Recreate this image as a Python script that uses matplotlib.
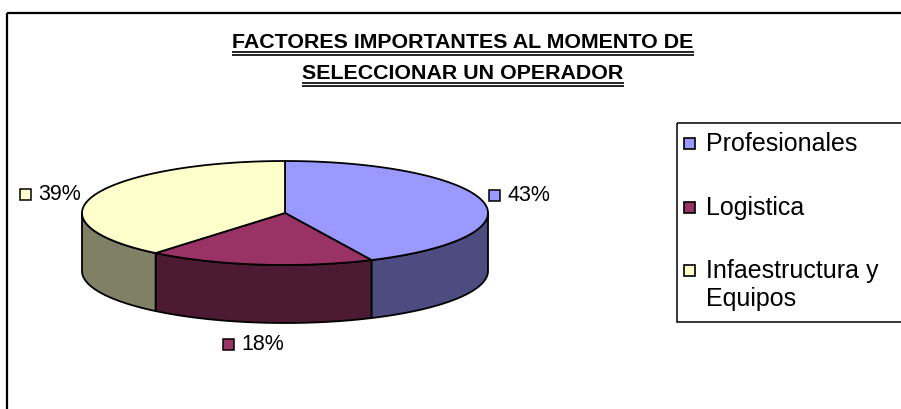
import numpy as np
import matplotlib
matplotlib.use("Agg")
import matplotlib.pyplot as plt
from matplotlib.patches import Polygon, Rectangle
from matplotlib.offsetbox import AnnotationBbox, HPacker, TextArea, DrawingArea

# ---- data ----
categories = ["Profesionales", "Logistica", "Infaestructura y\nEquipos"]
values = [43, 18, 39]
pct_labels = ["43%", "18%", "39%"]
title_lines = ["FACTORES IMPORTANTES AL MOMENTO DE", "SELECCIONAR UN OPERADOR"]
top_colors = ["#9999FF", "#993366", "#FFFFCC"]
side_colors = ["#4C4C80", "#4D1A33", "#808066"]

FONT = ["Liberation Sans", "DejaVu Sans"]
plt.rcParams["font.family"] = FONT

W, H = 901, 409
fig = plt.figure(figsize=(W / 100, H / 100), dpi=100)
ax = fig.add_axes([0, 0, 1, 1])
ax.set_xlim(0, W)
ax.set_ylim(H, 0)
ax.axis("off")

# chart frame (cropped on right/bottom)
ax.add_patch(Rectangle((7, 13), 1200, 1200, fill=False, ec="black", lw=1.6))

# ---- 3D pie geometry ----
CX, CY, RX, RY, DEPTH = 285, 213, 203, 52, 58

def pt(theta_deg, dy=0.0, k=1.0):
    t = np.deg2rad(theta_deg)
    return CX + RX * k * np.cos(t), CY - RY * k * np.sin(t) + dy

def arc(t1, t2, dy=0.0, n=120):
    ts = np.linspace(t1, t2, n)
    return np.array([pt(t, dy) for t in ts])

fracs = np.array(values, dtype=float) / np.sum(values)
starts = 90 - 360 * np.concatenate([[0], np.cumsum(fracs)[:-1]])
ends = starts - 360 * fracs

# side walls (front half: theta in [-180, 0])
for s, e, sc in zip(starts, ends, side_colors):
    for shift in (0, 360, -360):
        hi = min(s + shift, 0)
        lo = max(e + shift, -180)
        if lo < hi:
            top = arc(hi, lo)
            bot = arc(lo, hi, dy=DEPTH)
            poly = np.vstack([top, bot])
            ax.add_patch(Polygon(poly, closed=True, fc=sc, ec="black", lw=1.3, joinstyle="round"))

# top wedges
for s, e, tc in zip(starts, ends, top_colors):
    pts = np.vstack([[CX, CY], arc(s, e)])
    ax.add_patch(Polygon(pts, closed=True, fc=tc, ec="black", lw=1.3, joinstyle="round"))

# ---- percentage labels ----
for s, e, lab, tc in zip(starts, ends, pct_labels, top_colors):
    mid = (s + e) / 2
    c, sn = np.cos(np.deg2rad(mid)), np.sin(np.deg2rad(mid))
    x, y = pt(mid, k=1.03 if c > 0 else 1.07)
    if sn < -0.5:
        y += DEPTH + 8
        x -= 4
        align = (0.5, 1.0)
    elif c > 0:
        y -= 6
        align = (0.0, 0.5)
    else:
        align = (1.0, 0.5)
    da = DrawingArea(8, 8, 0, 0)
    da.add_artist(Rectangle((0, 0), 8, 8, fc=tc, ec="black", lw=1.1))
    ta = TextArea(lab, textprops=dict(fontsize=15.5, family=FONT))
    box = HPacker(children=[da, ta], align="center", pad=0, sep=5)
    ab = AnnotationBbox(box, (x, y), xycoords="data", frameon=False,
                        box_alignment=align, pad=0)
    ax.add_artist(ab)

# ---- title with double underline ----
title_y = [48, 79]  # baselines
ttexts = []
for line, yb in zip(title_lines, title_y):
    t = ax.text(463, yb, line, ha="center", va="baseline", fontsize=15.4,
                fontweight="bold", family=FONT)
    ttexts.append(t)

fig.canvas.draw()
r = fig.canvas.get_renderer()
inv = ax.transData.inverted()
for t, yb in zip(ttexts, title_y):
    bb = t.get_window_extent(r)
    x0, _ = inv.transform((bb.x0, 0))
    x1, _ = inv.transform((bb.x1, 0))
    for off in (4, 6.5):
        ax.plot([x0, x1], [yb + off, yb + off], color="black", lw=1.2,
                solid_capstyle="butt")

# ---- legend (drawn manually so the key aligns with the first text line) ----
LX, LY0, LY1 = 677, 123, 322
ax.add_patch(Rectangle((LX, LY0), 1000, LY1 - LY0, fill=False, ec="black", lw=1.1))
base = 151          # baseline of first entry
step = 63.5         # spacing between entries
line_h = 28         # spacing between lines within an entry
for i, (cat, col) in enumerate(zip(categories, top_colors)):
    yb = base + step * i
    ax.add_patch(Rectangle((684, yb - 13), 11, 11, fc=col, ec="black", lw=1.2))
    for j, ln in enumerate(cat.split("\n")):
        ax.text(706, yb + j * line_h, ln, ha="left", va="baseline",
                fontsize=18, family=FONT)

fig.savefig("out.png", dpi=100)
